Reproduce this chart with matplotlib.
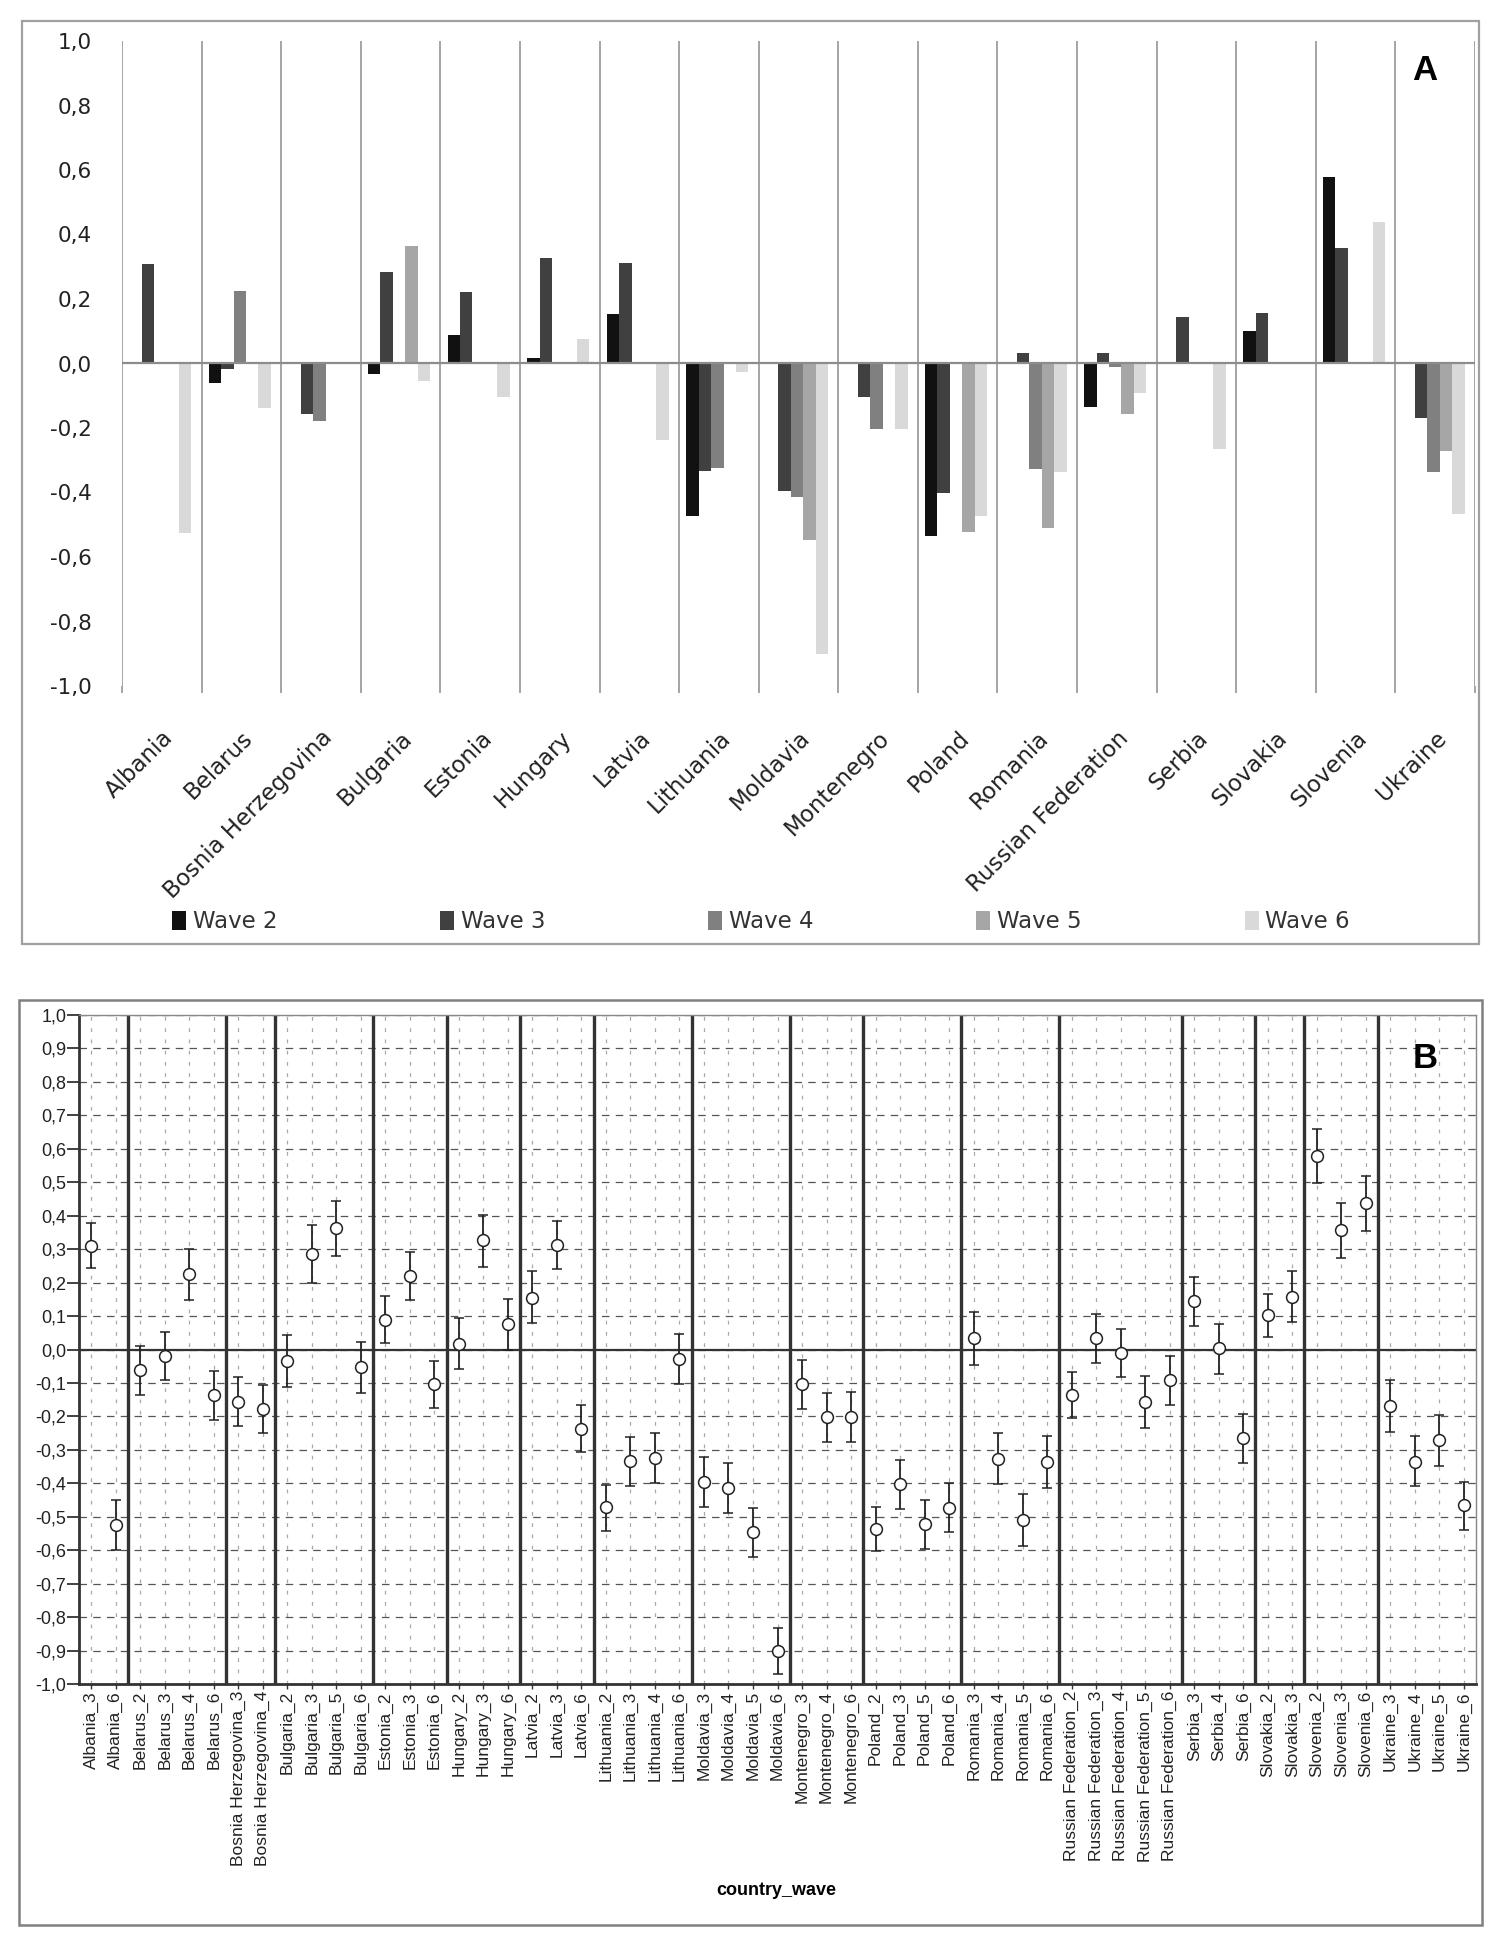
import numpy as np
import matplotlib.pyplot as plt
from matplotlib.patches import Rectangle

nan = np.nan

countries = ["Albania", "Belarus", "Bosnia Herzegovina", "Bulgaria", "Estonia",
             "Hungary", "Latvia", "Lithuania", "Moldavia", "Montenegro", "Poland",
             "Romania", "Russian Federation", "Serbia", "Slovakia", "Slovenia", "Ukraine"]
wave_ids = [2, 3, 4, 5, 6]
wave_names = ["Wave 2", "Wave 3", "Wave 4", "Wave 5", "Wave 6"]

# means per wave (nan = country not surveyed in that wave)
wave2 = [nan, -0.062, nan, -0.033, 0.089, 0.016, 0.155, -0.472, nan, nan,
         -0.536, nan, -0.136, nan, 0.102, 0.579, nan]
wave3 = [0.310, -0.018, -0.156, 0.285, 0.221, 0.328, 0.311, -0.333, -0.395, -0.104,
         -0.403, 0.033, 0.033, 0.145, 0.158, 0.357, -0.169]
wave4 = [nan, 0.225, -0.178, nan, nan, nan, nan, -0.324, -0.414, -0.203,
         nan, -0.326, -0.010, 0.004, nan, nan, -0.335]
wave5 = [nan, nan, nan, 0.364, nan, nan, nan, nan, -0.547, nan,
         -0.523, -0.509, -0.156, nan, nan, nan, -0.272]
wave6 = [-0.525, -0.137, nan, -0.053, -0.104, 0.075, -0.237, -0.027, -0.901, -0.203,
         -0.473, -0.336, -0.092, -0.266, nan, 0.438, -0.466]

# lower / upper confidence limits (panel B)
lo2 = [nan, -0.137, nan, -0.111, 0.018, -0.059, 0.078, -0.542, nan, nan,
       -0.601, nan, -0.204, nan, 0.036, 0.499, nan]
hi2 = [nan, 0.011, nan, 0.044, 0.159, 0.093, 0.235, -0.405, nan, nan,
       -0.472, nan, -0.067, nan, 0.167, 0.658, nan]
lo3 = [0.243, -0.091, -0.230, 0.198, 0.147, 0.248, 0.240, -0.409, -0.470, -0.178,
       -0.477, -0.047, -0.040, 0.071, 0.081, 0.274, -0.247]
hi3 = [0.377, 0.053, -0.082, 0.373, 0.292, 0.403, 0.385, -0.261, -0.322, -0.030,
       -0.331, 0.111, 0.106, 0.218, 0.235, 0.438, -0.092]
lo4 = [nan, 0.148, -0.251, nan, nan, nan, nan, -0.398, -0.490, -0.277,
       nan, -0.403, -0.082, -0.073, nan, nan, -0.409]
hi4 = [nan, 0.299, -0.107, nan, nan, nan, nan, -0.251, -0.339, -0.130,
       nan, -0.250, 0.062, 0.075, nan, nan, -0.259]
lo5 = [nan, nan, nan, 0.281, nan, nan, nan, nan, -0.620, nan,
       -0.597, -0.587, -0.235, nan, nan, nan, -0.347]
hi5 = [nan, nan, nan, 0.444, nan, nan, nan, nan, -0.475, nan,
       -0.450, -0.432, -0.078, nan, nan, nan, -0.195]
lo6 = [-0.598, -0.210, nan, -0.129, -0.176, 0.000, -0.307, -0.103, -0.971, -0.278,
       -0.547, -0.413, -0.165, -0.340, nan, 0.355, -0.540]
hi6 = [-0.451, -0.063, nan, 0.021, -0.033, 0.151, -0.167, 0.047, -0.834, -0.128,
       -0.399, -0.259, -0.018, -0.192, nan, 0.519, -0.396]

wave_colors = ["#111111", "#404040", "#808080", "#a6a6a6", "#d9d9d9"]

W, H = 1512, 1960
fig = plt.figure(figsize=(W / 100, H / 100), dpi=100)


def px_axes(l, t, r, b):
    return fig.add_axes([l / W, 1 - b / H, (r - l) / W, (b - t) / H])


def frame(l, t, r, b, color, lw):
    fig.patches.append(Rectangle((l / W, 1 - b / H), (r - l) / W, (b - t) / H,
                                 transform=fig.transFigure, fill=False,
                                 ec=color, lw=lw))


def fmt(v):
    s = f"{v:.1f}".replace(".", ",")
    return "0,0" if s == "-0,0" else s


# ---------------- panel A ----------------
frame(22, 21, 1479, 944, "#a0a0a0", 1.6)
axA = px_axes(122, 41, 1475, 686)
waves = [wave2, wave3, wave4, wave5, wave6]
x = np.arange(len(countries))
bw = 0.156
for j in range(5):
    axA.bar(x + 0.09 + j * bw, waves[j], width=bw, align="edge",
            color=wave_colors[j], label=wave_names[j], linewidth=0, zorder=3)

axA.set_xlim(0, len(countries))
axA.set_ylim(-1, 1)
yt = np.round(np.linspace(-1, 1, 11), 1)
axA.set_yticks(yt)
axA.set_yticklabels([fmt(v) for v in yt], fontsize=15.5, family="DejaVu Sans",
                    color="#222222")
axA.tick_params(axis="y", length=0, pad=22)
axA.set_xticks(x + 0.5)
axA.set_xticklabels(countries, rotation=45, ha="right", va="top",
                    rotation_mode="anchor", fontsize=16.5, family="DejaVu Sans",
                    color="#222222")
axA.tick_params(axis="x", which="major", length=0, pad=29)
axA.set_xticks(np.arange(len(countries) + 1), minor=True)
axA.tick_params(axis="x", which="minor", length=5, color="#8c8c8c", width=1.1)
axA.grid(which="minor", axis="x", color="#8c8c8c", lw=1.1, zorder=1)
axA.axhline(0, color="#8c8c8c", lw=1.6, zorder=4)
for s in axA.spines.values():
    s.set_visible(False)

fig.legend(*axA.get_legend_handles_labels(), loc="center", ncol=5, mode="expand",
           bbox_to_anchor=(172 / W, 1 - 936 / H, (1350 - 172) / W, 28 / H),
           frameon=False, handlelength=0.6, handleheight=0.9,
           handletextpad=0.3, borderpad=0, borderaxespad=0,
           labelcolor="#333333", prop={"family": "DejaVu Sans", "size": 16.5})
fig.text(1425 / W, 1 - 71 / H, "A", fontsize=25, fontweight="bold",
         family="Liberation Sans", ha="center", va="center")

# ---------------- panel B ----------------
frame(19, 1000, 1482, 1925, "#808080", 1.8)
axB = px_axes(79, 1015, 1476, 1684)

los = [lo2, lo3, lo4, lo5, lo6]
his = [hi2, hi3, hi4, hi5, hi6]
labels, means, lows, highs, bounds = [], [], [], [], []
for ci, c in enumerate(countries):
    for j, wid in enumerate(wave_ids):
        if not np.isnan(waves[j][ci]):
            labels.append(f"{c}_{wid}")
            means.append(waves[j][ci])
            lows.append(los[j][ci])
            highs.append(his[j][ci])
    bounds.append(len(labels))
means = np.array(means)
lows = np.array(lows)
highs = np.array(highs)
xb = np.arange(len(labels)) + 0.5

axB.set_xlim(0, len(labels))
axB.set_ylim(-1, 1)
yb = np.round(np.linspace(-1, 1, 21), 1)
axB.set_yticks(yb)
axB.set_yticklabels([fmt(v) for v in yb], fontsize=13, family="Liberation Sans",
                    color="#222222")
axB.tick_params(axis="y", length=8.5, width=1.3, color="#333333", pad=0.5)
axB.set_xticks(xb)
axB.set_xticklabels(labels, rotation=90, ha="center", va="top", fontsize=12.5,
                    family="Liberation Sans", color="#222222")
axB.tick_params(axis="x", length=3.6, width=1.0, color="#333333", pad=1.5)

axB.grid(axis="y", ls=(0, (6, 5)), color="#555555", lw=0.9, zorder=1)
axB.grid(axis="x", ls=(0, (3, 6)), color="#a8a8a8", lw=0.9, zorder=1)
axB.axhline(0, color="#333333", lw=1.6, zorder=2)
axB.vlines(bounds[:-1], -1, 1, color="#333333", lw=2.4, zorder=2)

axB.errorbar(xb, means, yerr=[means - lows, highs - means], fmt="o", ms=8.5,
             mfc="white", mec="#222222", mew=1.1, ecolor="#222222",
             elinewidth=1.3, capsize=3.5, capthick=1.2, zorder=5)

for side in ["left", "bottom"]:
    axB.spines[side].set_color("#333333")
    axB.spines[side].set_linewidth(2.0)
for side in ["top", "right"]:
    axB.spines[side].set_color("#888888")
    axB.spines[side].set_linewidth(1.0)

fig.text(776 / W, 1 - 1890 / H, "country_wave", fontsize=13, fontweight="bold",
         family="Liberation Sans", ha="center", va="center")
fig.text(1425 / W, 1 - 1059 / H, "B", fontsize=25, fontweight="bold",
         family="Liberation Sans", ha="center", va="center")

fig.savefig("out.png", dpi=100, facecolor="white")
